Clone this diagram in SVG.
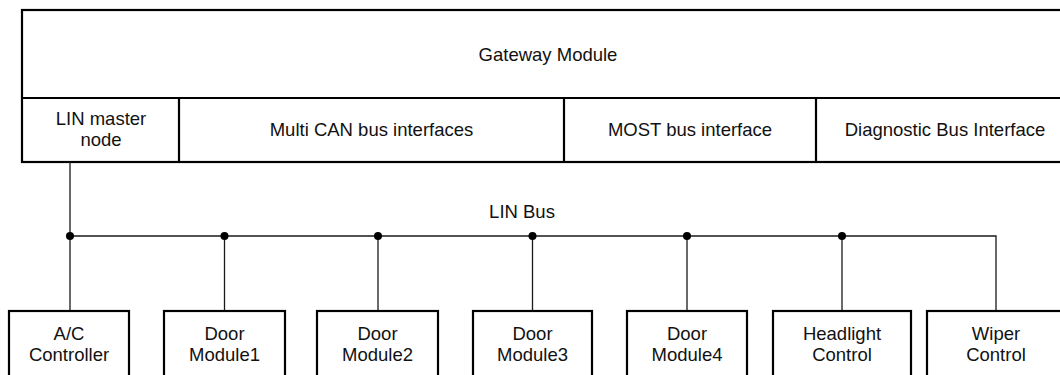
<svg xmlns="http://www.w3.org/2000/svg" width="1060" height="375" viewBox="0 0 1060 375">
  <style>
    .box { fill: #ffffff; stroke: #000000; stroke-width: 2.2; }
    .wire { fill: none; stroke: #1a1a1a; stroke-width: 1.3; }
    .dot { fill: #000000; }
    text { font-family: "Liberation Sans", Arial, sans-serif; font-size: 18.5px; fill: #111111; text-anchor: middle; }
  </style>

  <!-- Gateway block with its interface strip -->
  <g id="gateway">
    <rect class="box" x="22" y="10" width="1056" height="152"/>
    <line class="box" x1="22" y1="98" x2="1078" y2="98"/>
    <text x="548" y="61">Gateway Module</text>
  </g>
  <g id="lin-master">
    <line class="box" x1="179" y1="98" x2="179" y2="162"/>
    <text x="101" y="124.5">LIN master</text>
    <text x="101" y="146">node</text>
  </g>
  <g id="can-interfaces">
    <line class="box" x1="564" y1="98" x2="564" y2="162"/>
    <text x="371.5" y="135.5">Multi CAN bus interfaces</text>
  </g>
  <g id="most-interface">
    <line class="box" x1="816" y1="98" x2="816" y2="162"/>
    <text x="690" y="135.5">MOST bus interface</text>
  </g>
  <g id="diagnostic-interface">
    <text x="945" y="135.5">Diagnostic Bus Interface</text>
  </g>

  <!-- LIN bus wiring -->
  <g id="connectors">
    <path class="wire" d="M70 162 V311"/>
    <path class="wire" d="M70 236 H996 V311"/>
    <path class="wire" d="M224.5 236 V311"/>
    <path class="wire" d="M378 236 V311"/>
    <path class="wire" d="M532.5 236 V311"/>
    <path class="wire" d="M687 236 V311"/>
    <path class="wire" d="M842 236 V311"/>
    <circle class="dot" cx="70" cy="236" r="4"/>
    <circle class="dot" cx="224.5" cy="236" r="4"/>
    <circle class="dot" cx="378" cy="236" r="4"/>
    <circle class="dot" cx="532.5" cy="236" r="4"/>
    <circle class="dot" cx="687" cy="236" r="4"/>
    <circle class="dot" cx="842" cy="236" r="4"/>
    <text x="522" y="218">LIN Bus</text>
  </g>

  <!-- LIN slave nodes -->
  <g id="ac-controller">
    <rect class="box" x="9" y="311" width="120" height="80"/>
    <text x="69" y="339.5">A/C</text>
    <text x="69" y="361">Controller</text>
  </g>
  <g id="door-module1">
    <rect class="box" x="164" y="311" width="121" height="80"/>
    <text x="224.5" y="339.5">Door</text>
    <text x="224.5" y="361">Module1</text>
  </g>
  <g id="door-module2">
    <rect class="box" x="317" y="311" width="121" height="80"/>
    <text x="377.5" y="339.5">Door</text>
    <text x="377.5" y="361">Module2</text>
  </g>
  <g id="door-module3">
    <rect class="box" x="473" y="311" width="119" height="80"/>
    <text x="532.5" y="339.5">Door</text>
    <text x="532.5" y="361">Module3</text>
  </g>
  <g id="door-module4">
    <rect class="box" x="627" y="311" width="120" height="80"/>
    <text x="687" y="339.5">Door</text>
    <text x="687" y="361">Module4</text>
  </g>
  <g id="headlight-control">
    <rect class="box" x="773" y="311" width="138" height="80"/>
    <text x="842" y="339.5">Headlight</text>
    <text x="842" y="361">Control</text>
  </g>
  <g id="wiper-control">
    <rect class="box" x="927" y="311" width="138" height="80"/>
    <text x="996" y="339.5">Wiper</text>
    <text x="996" y="361">Control</text>
  </g>
</svg>
